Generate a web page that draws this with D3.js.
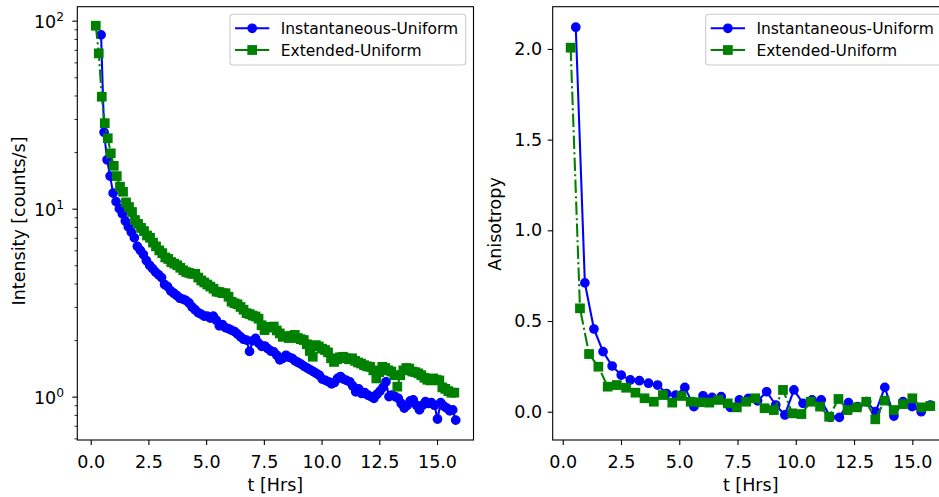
<!DOCTYPE html>
<html>
<head>
  <meta charset="utf-8">
  <title>Intensity and anisotropy vs time</title>
  <style>
    body { margin: 0; background: white; }
    svg { display: block; font-family: 'DejaVu Sans', sans-serif; }
  </style>
  <script src="https://d3js.org/d3.v7.min.js"></script>
</head>
<body>
<div id="chart"></div>
<script>
  const seriesNames = ['Instantaneous-Uniform', 'Extended-Uniform'];

  // left panel: intensity, fine time bins
  const tInstLeft = [
    0.45, 0.58, 0.71, 0.84, 0.97, 1.10, 1.24, 1.37, 1.50, 1.63,
    1.76, 1.89, 2.02, 2.15, 2.28, 2.41, 2.55, 2.68, 2.81, 2.94,
    3.07, 3.20, 3.33, 3.47, 3.60, 3.73, 3.86, 3.99, 4.12, 4.26,
    4.39, 4.52, 4.65, 4.78, 4.91, 5.04, 5.18, 5.31, 5.44, 5.57,
    5.70, 5.83, 5.96, 6.09, 6.23, 6.36, 6.49, 6.62, 6.75, 6.88,
    7.01, 7.14, 7.28, 7.41, 7.54, 7.67, 7.80, 7.93, 8.06, 8.19,
    8.32, 8.46, 8.59, 8.72, 8.85, 8.98, 9.11, 9.25, 9.38, 9.51,
    9.64, 9.77, 9.90, 10.03, 10.17, 10.30, 10.43, 10.56, 10.69, 10.82,
    10.95, 11.08, 11.22, 11.35, 11.48, 11.61, 11.74, 11.87, 12.00, 12.14,
    12.27, 12.40, 12.53, 12.66, 12.79, 12.92, 13.05, 13.19, 13.32, 13.45,
    13.58, 13.71, 13.84, 13.97, 14.11, 14.24, 14.37, 14.50, 14.63, 14.76,
    14.89, 15.02, 15.16, 15.29, 15.42, 15.55, 15.68, 15.81
  ];
  const intensityInst = [
    84, 25.5, 18.2, 14.9, 12.1, 10.9, 10.0, 9.4, 8.6, 8.0,
    7.5, 7.0, 6.3, 6.0, 5.7, 5.3, 5.0, 4.8, 4.6, 4.45,
    4.3, 3.95, 3.85, 3.65, 3.55, 3.45, 3.34, 3.3, 3.25, 3.15,
    3.0, 2.9, 2.8, 2.75, 2.68, 2.68, 2.62, 2.68, 2.55, 2.38,
    2.42, 2.33, 2.3, 2.26, 2.22, 2.15, 2.08, 2.02, 2.0, 1.74,
    1.98, 2.04, 1.92, 1.85, 1.86, 1.8, 1.75, 1.73, 1.66, 1.57,
    1.6, 1.66, 1.62, 1.6, 1.55, 1.52, 1.49, 1.45, 1.42, 1.39,
    1.36, 1.33, 1.3, 1.24, 1.22, 1.2, 1.17, 1.19, 1.25, 1.28,
    1.24, 1.22, 1.2, 1.14, 1.06, 1.1, 1.04, 1.05, 1.02, 1.0,
    0.98, 1.03, 1.07, 1.12, 1.2, 1.0, 1.02, 1.0, 0.98, 0.92,
    0.87, 0.9, 0.95, 0.96, 0.9, 0.85, 0.9, 0.94, 0.92, 0.93,
    0.9, 0.76, 0.93, 0.89, 0.87, 0.84, 0.85, 0.75
  ];
  const tExtLeft = [
    0.22, 0.35, 0.48, 0.61, 0.74, 0.87, 1.00, 1.13, 1.27, 1.40,
    1.53, 1.66, 1.79, 1.92, 2.05, 2.18, 2.31, 2.44, 2.57, 2.70,
    2.83, 2.97, 3.10, 3.23, 3.36, 3.49, 3.62, 3.75, 3.88, 4.01,
    4.14, 4.27, 4.40, 4.53, 4.66, 4.79, 4.92, 5.05, 5.18, 5.32,
    5.45, 5.58, 5.71, 5.84, 5.97, 6.10, 6.23, 6.36, 6.49, 6.62,
    6.75, 6.88, 7.01, 7.14, 7.27, 7.40, 7.53, 7.67, 7.80, 7.93,
    8.06, 8.19, 8.32, 8.45, 8.58, 8.71, 8.84, 8.97, 9.10, 9.23,
    9.36, 9.49, 9.62, 9.75, 9.88, 10.02, 10.15, 10.28, 10.41, 10.54,
    10.67, 10.80, 10.93, 11.06, 11.19, 11.32, 11.45, 11.58, 11.71, 11.84,
    11.97, 12.10, 12.24, 12.37, 12.50, 12.63, 12.76, 12.89, 13.02, 13.15,
    13.28, 13.41, 13.54, 13.67, 13.80, 13.93, 14.06, 14.19, 14.32, 14.45,
    14.58, 14.71, 14.84, 14.97, 15.10, 15.23, 15.36, 15.49, 15.62, 15.75
  ];
  const intensityExt = [
    94, 67, 39.4, 28.5, 23.7, 19.7, 16.9, 14.9, 13.1, 12.3,
    10.8, 10.2, 9.6, 8.7, 8.3, 7.9, 7.6, 7.2, 7.0, 6.6,
    6.3, 6.0, 5.8, 5.5, 5.4, 5.2, 5.1, 5.0, 4.85, 4.7,
    4.6, 4.55, 4.5, 4.5, 4.3, 4.15, 4.05, 3.95, 3.85, 3.75,
    3.62, 3.6, 3.55, 3.55, 3.4, 3.2, 3.14, 3.1, 3.0, 2.9,
    2.78, 2.75, 2.7, 2.67, 2.6, 2.4, 2.26, 2.35, 2.33, 2.36,
    2.25, 2.17, 2.08, 2.1, 2.05, 2.1, 2.13, 2.05, 2.02, 2.0,
    1.9, 1.75, 1.63, 1.88, 1.85, 1.8, 1.77, 1.72, 1.6, 1.53,
    1.58, 1.62, 1.63, 1.6, 1.58, 1.6, 1.55, 1.52, 1.5, 1.47,
    1.45, 1.44, 1.38, 1.25, 1.35, 1.44, 1.42, 1.38, 1.36, 1.3,
    1.13, 1.3, 1.38, 1.42, 1.41, 1.36, 1.35, 1.33, 1.3, 1.26,
    1.23, 1.22, 1.25, 1.23, 1.22, 1.12, 1.1, 1.07, 1.05, 1.05
  ];

  // right panel: anisotropy, coarse time bins
  const tInstRight = [
    0.56, 0.95, 1.34, 1.73, 2.12, 2.51, 2.90, 3.29, 3.68, 4.07,
    4.46, 4.85, 5.24, 5.63, 6.02, 6.41, 6.80, 7.19, 7.58, 7.97,
    8.36, 8.75, 9.14, 9.53, 9.92, 10.31, 10.70, 11.09, 11.48, 11.87,
    12.26, 12.65, 13.04, 13.43, 13.82, 14.21, 14.60, 14.99, 15.38, 15.77
  ];
  const anisoInst = [
    2.12, 0.71, 0.456, 0.331, 0.252, 0.202, 0.175, 0.171, 0.157, 0.147,
    0.10, 0.092, 0.134, 0.028, 0.088, 0.079, 0.083, 0.024, 0.065, 0.074,
    0.06, 0.11, 0.037, -0.018, 0.12, 0.046, 0.065, 0.065, -0.031, -0.031,
    0.05, 0.028, 0.055, 0.0, 0.134, -0.024, 0.055, 0.028, 0.0, 0.037
  ];
  const tExtRight = [
    0.34, 0.74, 1.13, 1.53, 1.93, 2.32, 2.72, 3.12, 3.51, 3.91,
    4.30, 4.70, 5.10, 5.49, 5.89, 6.29, 6.68, 7.08, 7.47, 7.87,
    8.26, 8.66, 9.06, 9.45, 9.85, 10.24, 10.64, 11.04, 11.43, 11.83,
    12.22, 12.62, 13.02, 13.41, 13.81, 14.20, 14.60, 15.00, 15.39, 15.77
  ];
  const anisoExt = [
    2.007, 0.57, 0.318, 0.248, 0.138, 0.147, 0.132, 0.105, 0.074, 0.055,
    0.092, 0.05, 0.087, 0.055, 0.052, 0.05, 0.065, 0.046, 0.024, 0.055,
    0.074, 0.019, 0.009, 0.12, -0.009, -0.013, 0.055, 0.028, -0.028, 0.07,
    0.009, 0.024, 0.055, -0.042, 0.061, 0.009, 0.042, 0.074, 0.024, 0.031
  ];

  const timeTicks = [0, 2.5, 5, 7.5, 10, 12.5, 15];
  const intensityTicks = [1, 10, 100];
  const anisoTicks = [0, 0.5, 1, 1.5, 2];

  const width = 939, height = 497;
  const lw = 2.08, ms = 8.33, mew = 1.39;
  const dashDot = '13.3,3.3,2.1,3.3';

  const svg = d3.select('#chart')
    .append('svg')
      .attr('width', width)
      .attr('height', height);

  svg.append('rect').attr('width', width).attr('height', height).attr('fill', 'white');

  // two panels, box = axes area in pixels
  const left = { x0: 77.3, x1: 473.5, y0: 6.7, y1: 440 };
  const right = { x0: 552.7, x1: 948.7, y0: 6.7, y1: 440 };

  const xL = d3.scaleLinear().domain([-0.58, 16.58]).range([left.x0, left.x1]);
  const yL = d3.scaleLog().domain([0.588, 118.7]).range([left.y1, left.y0]);
  const xR = d3.scaleLinear().domain([-0.43, 16.56]).range([right.x0, right.x1]);
  const yR = d3.scaleLinear().domain([-0.156, 2.233]).range([right.y1, right.y0]);

  function addClip(id, box) {
    svg.append('clipPath').attr('id', id)
      .append('rect')
        .attr('x', box.x0).attr('y', box.y0)
        .attr('width', box.x1 - box.x0).attr('height', box.y1 - box.y0);
  }
  addClip('clipL', left);
  addClip('clipR', right);

  function drawSeries(g, x, y, ts, vs, color, dash, marker) {
    const pts = ts.map((t, i) => [t, vs[i]]);
    g.append('path')
      .datum(pts)
      .attr('d', d3.line().x(d => x(d[0])).y(d => y(d[1])))
      .attr('fill', 'none')
      .attr('stroke', color)
      .attr('stroke-width', lw)
      .attr('stroke-linejoin', 'round')
      .attr('stroke-dasharray', dash);
    if (marker === 'circle') {
      g.selectAll(null).data(pts).enter()
        .append('circle')
        .attr('cx', d => x(d[0])).attr('cy', d => y(d[1]))
        .attr('r', ms / 2)
        .attr('fill', color).attr('stroke', color).attr('stroke-width', mew);
    } else {
      g.selectAll(null).data(pts).enter()
        .append('rect')
        .attr('x', d => x(d[0]) - ms / 2).attr('y', d => y(d[1]) - ms / 2)
        .attr('width', ms).attr('height', ms)
        .attr('fill', color).attr('stroke', color).attr('stroke-width', mew);
    }
  }

  // left: intensity (log)
  const gL = svg.append('g').attr('clip-path', 'url(#clipL)');
  drawSeries(gL, xL, yL, tInstLeft, intensityInst, 'blue', null, 'circle');
  drawSeries(gL, xL, yL, tExtLeft, intensityExt, 'green', dashDot, 'square');

  // right: anisotropy
  const gR = svg.append('g').attr('clip-path', 'url(#clipR)');
  drawSeries(gR, xR, yR, tInstRight, anisoInst, 'blue', null, 'circle');
  drawSeries(gR, xR, yR, tExtRight, anisoExt, 'green', '13.3,3.3,2.1,3.3', 'square');

  function styleAxis(g, size) {
    g.select('.domain').remove();
    g.selectAll('line').attr('stroke', 'black').attr('stroke-width', 1.1);
    g.selectAll('text').attr('font-size', size).attr('fill', 'black')
      .attr('font-family', "'DejaVu Sans', sans-serif");
  }

  // x axes
  [[xL, left], [xR, right]].forEach(([x, box]) => {
    svg.append('g')
      .attr('transform', `translate(0, ${box.y1})`)
      .call(d3.axisBottom(x).tickValues(timeTicks).tickSize(5).tickPadding(10.4)
        .tickFormat(d3.format('.1f')))
      .call(g => styleAxis(g, 17.5));
    svg.append('text')
      .attr('x', (box.x0 + Math.min(box.x1, left.x1 - left.x0 + box.x0)) / 2)
      .attr('y', 491)
      .attr('text-anchor', 'middle')
      .attr('font-size', 17.5)
      .text('t [Hrs]');
  });

  // left y axis (log) with minor ticks
  svg.append('g')
    .attr('transform', `translate(${left.x0}, 0)`)
    .call(d3.axisLeft(yL).tickValues(yL.ticks().filter(v => !intensityTicks.includes(v)))
      .tickSize(2.8).tickFormat(''))
    .call(g => styleAxis(g, 17.5))
    .call(g => g.selectAll('line').attr('stroke-width', 0.83));
  svg.append('g')
    .attr('transform', `translate(${left.x0}, 0)`)
    .call(d3.axisLeft(yL).tickValues(intensityTicks).tickSize(5).tickFormat(''))
    .call(g => styleAxis(g, 17.5));
  svg.selectAll('.logLabel')
    .data(intensityTicks)
    .enter()
      .append('text')
      .attr('class', 'logLabel')
      .attr('x', 64)
      .attr('y', d => yL(d) + 7.4)
      .attr('text-anchor', 'end')
      .attr('font-size', 17.5)
      .each(function (d) {
        const t = d3.select(this);
        t.append('tspan').text('10');
        t.append('tspan').attr('font-size', 12.3).attr('dy', -7.4).text(Math.round(Math.log10(d)));
      });

  // right y axis
  svg.append('g')
    .attr('transform', `translate(${right.x0}, 0)`)
    .call(d3.axisLeft(yR).tickValues(anisoTicks).tickSize(5).tickPadding(5.5)
      .tickFormat(d3.format('.1f')))
    .call(g => styleAxis(g, 17.5));

  // y labels
  svg.append('text')
    .attr('transform', 'translate(24.5, 221) rotate(-90)')
    .attr('text-anchor', 'middle')
    .attr('font-size', 17.5)
    .text('Intensity [counts/s]');
  svg.append('text')
    .attr('transform', 'translate(501, 224) rotate(-90)')
    .attr('text-anchor', 'middle')
    .attr('font-size', 17.5)
    .text('Anisotropy');

  // spines
  [left, right].forEach(box => {
    svg.append('rect')
      .attr('x', box.x0).attr('y', box.y0)
      .attr('width', box.x1 - box.x0).attr('height', box.y1 - box.y0)
      .attr('fill', 'none').attr('stroke', 'black').attr('stroke-width', 1.1);
  });

  // legends
  function legend(x0) {
    const g = svg.append('g').attr('transform', `translate(${x0}, 14.3)`);
    g.append('rect')
      .attr('width', 235.7).attr('height', 50.7).attr('rx', 3)
      .attr('fill', 'white').attr('fill-opacity', 0.8)
      .attr('stroke', '#cccccc').attr('stroke-width', 1.1);
    const styles = [
      { color: 'blue', dash: null, marker: 'circle' },
      { color: 'green', dash: dashDot, marker: 'square' }
    ];
    seriesNames.forEach((name, i) => {
      const yy = 14 + i * 21.7;
      const s = styles[i];
      g.append('line')
        .attr('x1', 5).attr('x2', 39.3).attr('y1', yy).attr('y2', yy)
        .attr('stroke', s.color).attr('stroke-width', lw).attr('stroke-dasharray', s.dash);
      if (s.marker === 'circle') {
        g.append('circle').attr('cx', 22.2).attr('cy', yy).attr('r', ms / 2)
          .attr('fill', s.color).attr('stroke', s.color).attr('stroke-width', mew);
      } else {
        g.append('rect').attr('x', 22.2 - ms / 2).attr('y', yy - ms / 2)
          .attr('width', ms).attr('height', ms)
          .attr('fill', s.color).attr('stroke', s.color).attr('stroke-width', mew);
      }
      g.append('text')
        .attr('x', 50.7).attr('y', yy + 5.6)
        .attr('font-size', 15.5)
        .attr('fill', 'black')
        .text(name);
    });
  }
  legend(230);
  legend(705.7);
</script>
</body>
</html>
